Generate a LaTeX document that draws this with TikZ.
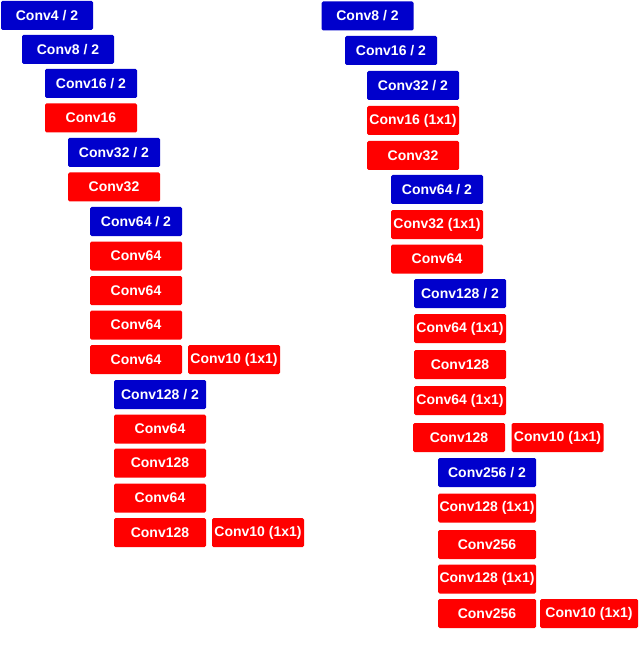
\documentclass[tikz,border=0pt]{standalone}
\usepackage{fontspec}
\setmainfont{Liberation Sans}
\definecolor{cblue}{RGB}{0,0,204}
\definecolor{cred}{RGB}{255,0,0}
\tikzset{
  blk/.style={rounded corners=1.5pt, minimum width=92pt, minimum height=29pt, inner sep=0pt,
    text=white, font=\fontsize{14pt}{16pt}\selectfont\bfseries},
  bbox/.style={blk, fill=cblue},
  rbox/.style={blk, fill=cred},
  wide/.style={minimum width=98pt}
}
\begin{document}
\begin{tikzpicture}[x=1pt,y=-1pt]
\useasboundingbox (0,0) rectangle (640,652);
% left column
\node[bbox] (L1) at (47,15.5) {Conv4 / 2};
\node[bbox] (L2) at (68,49.5) {Conv8 / 2};
\node[bbox] (L3) at (91,83.5) {Conv16 / 2};
\node[rbox] (L4) at (91,118) {Conv16};
\node[bbox] (L5) at (114,152.5) {Conv32 / 2};
\node[rbox] (L6) at (114,187) {Conv32};
\node[bbox] (L7) at (136,221.5) {Conv64 / 2};
\node[rbox] (L8) at (136,256) {Conv64};
\node[rbox] (L9) at (136,290.5) {Conv64};
\node[rbox] (L10) at (136,325) {Conv64};
\node[rbox] (L11) at (136,359.5) {Conv64};
\node[rbox] (L11b) at (234,359.5) {Conv10 (1x1)};
\node[bbox] (L12) at (160,394.5) {Conv128 / 2};
\node[rbox] (L13) at (160,429) {Conv64};
\node[rbox] (L14) at (160,463) {Conv128};
\node[rbox] (L15) at (160,498) {Conv64};
\node[rbox] (L16) at (160,532.5) {Conv128};
\node[rbox] (L16b) at (258,532.5) {Conv10 (1x1)};
% right column
\node[bbox] (R1) at (367.5,16) {Conv8 / 2};
\node[bbox] (R2) at (391,50.5) {Conv16 / 2};
\node[bbox] (R3) at (413,85.5) {Conv32 / 2};
\node[rbox] (R4) at (413,120.5) {Conv16 (1x1)};
\node[rbox] (R5) at (413,155.5) {Conv32};
\node[bbox] (R6) at (437,189.5) {Conv64 / 2};
\node[rbox] (R7) at (437,224.5) {Conv32 (1x1)};
\node[rbox] (R8) at (437,259) {Conv64};
\node[bbox] (R9) at (460,293.5) {Conv128 / 2};
\node[rbox] (R10) at (460,328.5) {Conv64 (1x1)};
\node[rbox] (R11) at (460,364.5) {Conv128};
\node[rbox] (R12) at (460,400.5) {Conv64 (1x1)};
\node[rbox] (R13) at (459,437.5) {Conv128};
\node[rbox] (R13b) at (557.5,437.5) {Conv10 (1x1)};
\node[bbox,wide] (R14) at (487,472.5) {Conv256 / 2};
\node[rbox,wide] (R15) at (487,508) {Conv128 (1x1)};
\node[rbox,wide] (R16) at (487,544.5) {Conv256};
\node[rbox,wide] (R17) at (487,579) {Conv128 (1x1)};
\node[rbox,wide] (R18) at (487,613.5) {Conv256};
\node[rbox,wide] (R18b) at (589,613.5) {Conv10 (1x1)};
\end{tikzpicture}
\end{document}
